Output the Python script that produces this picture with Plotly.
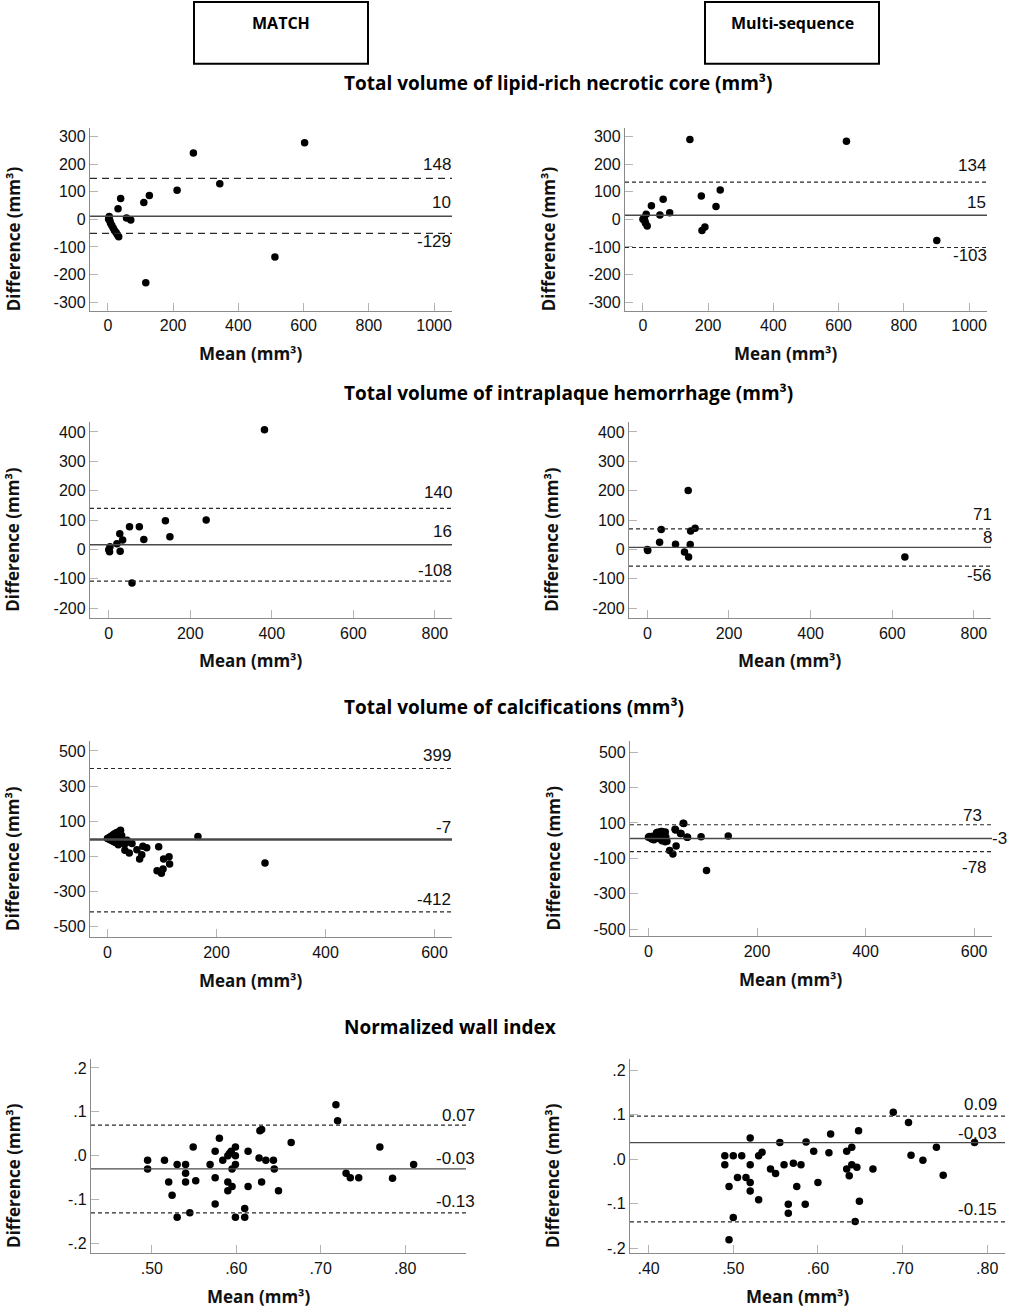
import plotly.graph_objects as go

W, H = 1013, 1315

# ---------------- data ----------------
col_headers = ["MATCH", "Multi-sequence"]
row_titles = ["Total volume of lipid-rich necrotic core (mm³)",
              "Total volume of intraplaque hemorrhage (mm³)",
              "Total volume of calcifications (mm³)",
              "Normalized wall index"]

# lipid-rich necrotic core
lrnc_match_mean = [603, 262, 343, 212, 127, 110, 39, 31, 512, 116, 57, 70, 2, 4, 6, 8, 12, 16, 20, 25, 29, 33]
lrnc_match_diff = [277, 240, 129, 105, 86, 61, 75, 38, -136, -230, 5, -2, 1, 10, -5, -14, -22, -31, -40, -48, -56, -63]
lrnc_match_lines = [148, 11, -51]
lrnc_match_labels = ["148", "10", "-129"]

lrnc_multi_mean = [144, 624, 901, 179, 237, 224, 62, 26, 52, 82, 181, 190, 0, 10, 6, 13, 4, 8]
lrnc_multi_diff = [289, 283, -77, 84, 106, 46, 73, 49, 16, 24, -40, -28, 0, 18, -6, -24, 6, -14]
lrnc_multi_lines = [135, 15, -102]
lrnc_multi_labels = ["134", "15", "-103"]

# intraplaque hemorrhage
iph_match_mean = [382, 239, 139, 150, 75, 51, 86, 27, 34, 20, 28, 57, 0, 3, 2]
iph_match_diff = [408, 100, 98, 43, 77, 77, 34, 53, 32, 19, -6, -114, -1, 9, -8]
iph_match_lines = [140, 16, -108]
iph_match_labels = ["140", "16", "-108"]

iph_multi_mean = [100, 34, 30, 69, 106, 117, 105, 91, 101, 631, 0, 1]
iph_multi_diff = [201, 68, 24, 18, 63, 72, 17, -9, -26, -26, 0, -4]
iph_multi_lines = [70, 7, -57]
iph_multi_labels = ["71", "8", "-56"]

# calcifications
calc_match_mean = [0, 2, 3, 5, 5, 7, 8, 8, 10, 11, 12, 13, 14, 15, 17, 18, 19, 20, 21, 23, 26, 28, 29, 31, 34, 36,
                   24, 32, 40, 45, 54, 59, 63, 65, 72, 94, 91, 99, 102, 103, 113, 114, 166, 289]
calc_match_diff = [2, 5, -2, 10, -6, 15, 3, -10, 22, -15, 8, 28, -20, -5, 35, 12, -28, -34, 40, -8, 18, -15, -11, -31, -22, -8,
                   49, -66, -81, -27, -63, -115, -91, -42, -51, -45, -182, -197, -172, -115, -102, -144, 13, -138]
calc_match_lines = [400, -4, -416]
calc_match_labels = ["399", "-7", "-412"]

calc_multi_mean = [107, 147, 97, 65, 71, 59, 50, 51, 39, 45, 31, 31, 23, 15,
                   0, 2, 5, 6, 8, 10, 12, 14, 17, 18, 20, 22, 25, 25, 27, 28, 29, 32, 34, 49, 60, 64, 72]
calc_multi_diff = [-169, 26, 22, 97, 19, 41, 60, -30, -56, -75, -6, 49, 52, 45,
                   19, 24, 15, 9, 25, 5, 22, 30, 47, 12, 38, 28, 0, 52, 40, 19, 35, 20, -4, 65, 41, 99, 19]
calc_multi_lines = [90, 12, -62]
calc_multi_labels = ["73", "-3", "-78"]

# normalized wall index
nwi_match_mean = [0.495, 0.495, 0.515, 0.520, 0.524, 0.530, 0.530, 0.540, 0.540, 0.540, 0.545, 0.549, 0.552,
                  0.569, 0.575, 0.575, 0.575, 0.580, 0.584, 0.590, 0.592, 0.594, 0.595, 0.590, 0.590, 0.595,
                  0.599, 0.599, 0.599, 0.599, 0.610, 0.610, 0.614, 0.614, 0.627, 0.628, 0.630, 0.630, 0.635,
                  0.644, 0.645, 0.650, 0.665, 0.718, 0.720, 0.730, 0.735, 0.745, 0.770, 0.785, 0.810]
nwi_match_diff = [-0.01, -0.03, -0.01, -0.06, -0.09, -0.02, -0.14, -0.02, -0.04, -0.06, -0.13, 0.02, -0.057,
                  -0.02, 0.01, -0.05, -0.11, 0.04, -0.01, 0.0, 0.005, 0.01, -0.03, -0.06, -0.08, -0.07,
                  0.02, 0.0, -0.02, -0.14, -0.12, -0.14, 0.01, -0.07, -0.005, 0.057, 0.06, -0.06, -0.01,
                  -0.01, -0.03, -0.08, 0.03, 0.116, 0.08, -0.04, -0.05, -0.05, 0.02, -0.051, -0.02]
nwi_match_lines = [0.07, -0.03, -0.13]
nwi_match_labels = ["0.07", "-0.03", "-0.13"]

nwi_multi_mean = [0.490, 0.490, 0.495, 0.495, 0.500, 0.500, 0.505, 0.510, 0.515, 0.520, 0.520, 0.520, 0.520,
                  0.530, 0.530, 0.534, 0.544, 0.550, 0.555, 0.560, 0.565, 0.565, 0.571, 0.575, 0.580, 0.585,
                  0.586, 0.595, 0.600, 0.615, 0.613, 0.634, 0.640, 0.634, 0.637, 0.640, 0.644, 0.646, 0.648,
                  0.649, 0.665, 0.689, 0.707, 0.710, 0.724, 0.740, 0.748, 0.785]
nwi_multi_diff = [0.008, -0.012, -0.061, -0.181, 0.008, -0.131, -0.041, 0.008, -0.041, 0.048, -0.012, -0.052, -0.071,
                  -0.091, 0.008, 0.016, -0.022, -0.032, 0.038, -0.012, -0.101, -0.121, -0.009, -0.061, -0.012, -0.101,
                  0.039, 0.018, -0.052, 0.057, 0.015, 0.018, 0.027, -0.022, -0.037, -0.012, -0.14, -0.018, 0.064,
                  -0.094, -0.022, 0.106, 0.083, 0.009, -0.002, 0.027, -0.036, 0.038]
nwi_multi_lines = [0.097, 0.0375, -0.1405]
nwi_multi_labels = ["0.09", "-0.03", "-0.15"]

vol_x_ticks_1000 = [0, 200, 400, 600, 800, 1000]
vol_x_ticks_800 = [0, 200, 400, 600, 800]
vol_x_ticks_600 = [0, 200, 400, 600]
lrnc_y_ticks = [-300, -200, -100, 0, 100, 200, 300]
iph_y_ticks = [-200, -100, 0, 100, 200, 300, 400]
calc_y_ticks = [-500, -300, -100, 100, 300, 500]
nwi_y_ticks = [-0.2, -0.1, 0.0, 0.1, 0.2]
nwi_y_text = ["-.2", "-.1", ".0", ".1", ".2"]
nwi_match_x_ticks = [0.5, 0.6, 0.7, 0.8]
nwi_multi_x_ticks = [0.4, 0.5, 0.6, 0.7, 0.8]


def dec_text(vals):
    return ["." + f"{v:.2f}".split(".")[1] for v in vals]


# ---------------- panels (pixel boxes: left, top, right, bottom) ----------------
panels = [
    dict(x=lrnc_match_mean, y=lrnc_match_diff, lines=lrnc_match_lines, labels=lrnc_match_labels,
         box=(90, 128, 452, 312), xr=[-55, 1055], yr=[-332, 332],
         xt=vol_x_ticks_1000, yt=lrnc_y_ticks, dash="7px,5px",
         shifts=[(1, 14), (1, 14), (1, -8)]),
    dict(x=lrnc_multi_mean, y=lrnc_multi_diff, lines=lrnc_multi_lines, labels=lrnc_multi_labels,
         box=(625, 128, 987, 312), xr=[-55, 1055], yr=[-332, 332],
         xt=vol_x_ticks_1000, yt=lrnc_y_ticks, dash="4px,3px",
         shifts=[(1, 17), (1, 13), (2, -8)]),
    dict(x=iph_match_mean, y=iph_match_diff, lines=iph_match_lines, labels=iph_match_labels,
         box=(90, 423, 452, 620), xr=[-46, 842], yr=[-234, 435],
         xt=vol_x_ticks_800, yt=iph_y_ticks, dash="4px,3px",
         shifts=[(2, 16), (2, 13), (2, 11)]),
    dict(x=iph_multi_mean, y=iph_multi_diff, lines=iph_multi_lines, labels=iph_multi_labels,
         box=(629, 423, 991, 620), xr=[-45, 842], yr=[-234, 435],
         xt=vol_x_ticks_800, yt=iph_y_ticks, dash="4px,3px",
         shifts=[(3, 14), (3, 10), (3, -9)]),
    dict(x=calc_match_mean, y=calc_match_diff, lines=calc_match_lines, labels=calc_match_labels,
         box=(90, 743, 452, 940), xr=[-32, 632], yr=[-560, 558],
         xt=vol_x_ticks_600, yt=calc_y_ticks, dash="4px,3px", meanw=2.5,
         shifts=[(1, 13), (1, 12), (1, 12)]),
    dict(x=calc_multi_mean, y=calc_multi_diff, lines=calc_multi_lines, labels=calc_multi_labels,
         box=(630, 743, 992, 939), xr=[-34, 633], yr=[-540, 565],
         xt=vol_x_ticks_600, yt=calc_y_ticks, dash="4px,3px",
         shifts=[(-8, 9), (17, 0), (-3, -16)]),
    dict(x=nwi_match_mean, y=nwi_match_diff, lines=nwi_match_lines, labels=nwi_match_labels,
         box=(91, 1062, 466, 1257), xr=[0.428, 0.872], yr=[-0.222, 0.221],
         xt=nwi_match_x_ticks, yt=nwi_y_ticks, ytext=nwi_y_text, xdec=True, dash="4px,3px",
         shifts=[(11, 10), (11, 10), (11, 11)]),
    dict(x=nwi_multi_mean, y=nwi_multi_diff, lines=nwi_multi_lines, labels=nwi_multi_labels,
         box=(630, 1062, 1005, 1257), xr=[0.378, 0.821], yr=[-0.211, 0.226],
         xt=nwi_multi_x_ticks, yt=nwi_y_ticks, ytext=nwi_y_text, xdec=True, dash="4px,3px",
         shifts=[(-6, 12), (-6, 9), (-6, 12)]),
]


def fx(px):
    return px / W


def fy(py):
    return 1 - py / H


TICK_FONT = dict(family="Liberation Sans, Arial, sans-serif", size=16, color="#111111")
LAB_FONT = dict(family="Liberation Sans, Arial, sans-serif", size=17, color="#111111")
BOLD = "Open Sans, sans-serif"

fig = go.Figure()
shapes = []
annotations = []
layout_axes = {}

for i, p in enumerate(panels):
    n = "" if i == 0 else str(i + 1)
    l, t, r, b = p["box"]
    fig.add_trace(go.Scatter(
        x=p["x"], y=p["y"], mode="markers", xaxis="x" + n, yaxis="y" + n,
        marker=dict(color="black", size=7.5), showlegend=False, hoverinfo="x+y"))

    common = dict(showline=True, linecolor="#8a8a8a", linewidth=1.4, ticks="inside", ticklen=8,
                  tickcolor="#b4b4b4", tickwidth=1.4, showgrid=False, zeroline=False,
                  tickfont=TICK_FONT, mirror=False, fixedrange=True)
    xa = dict(common, domain=[fx(l), fx(r)], range=p["xr"], anchor="y" + n,
              tickvals=p["xt"], ticktext=dec_text(p["xt"]) if p.get("xdec") else [str(v) for v in p["xt"]])
    ya = dict(common, domain=[fy(b), fy(t)], range=p["yr"], anchor="x" + n,
              tickvals=p["yt"], ticktext=p.get("ytext", [str(v) for v in p["yt"]]))
    layout_axes["xaxis" + n] = xa
    layout_axes["yaxis" + n] = ya

    # limits of agreement and mean difference
    for k, (v, lab) in enumerate(zip(p["lines"], p["labels"])):
        solid = (k == 1)
        shapes.append(dict(
            type="line", xref="x" + n + " domain", yref="y" + n, x0=0, x1=1, y0=v, y1=v,
            line=dict(color="#2a2a2a" if not solid else "#4a4a4a",
                      width=p.get("meanw", 1.4) if solid else 1.2,
                      dash="solid" if solid else p["dash"])))
        xs, ys = p["shifts"][k]
        annotations.append(dict(
            xref="x" + n, yref="y" + n, x=p["xr"][1], y=v, text=lab, showarrow=False,
            xanchor="right", yanchor="middle", xshift=xs, yshift=ys, font=LAB_FONT))

    # axis titles
    annotations.append(dict(xref="paper", yref="paper", x=fx((l + r) / 2 - 20), y=fy(b + 43),
                            text="Mean (mm³)", showarrow=False, xanchor="center", yanchor="middle",
                            font=dict(family=BOLD, size=17, color="#111111", weight="bold")))
    annotations.append(dict(xref="paper", yref="paper", x=fx(l - 77), y=fy((t + b) / 2 + 20),
                            text="Difference (mm³)", showarrow=False, textangle=-90,
                            xanchor="center", yanchor="middle",
                            font=dict(family=BOLD, size=17, color="#111111", weight="bold")))

# column header boxes
for txt, (l, r) in zip(col_headers, [(194, 368), (705, 879)]):
    shapes.append(dict(type="rect", xref="paper", yref="paper", x0=fx(l), x1=fx(r), y0=fy(64), y1=fy(2),
                       line=dict(color="black", width=2)))
    annotations.append(dict(xref="paper", yref="paper", x=fx((l + r) / 2), y=fy(23), text=txt,
                            showarrow=False, xanchor="center", yanchor="middle",
                            font=dict(family=BOLD, size=16, color="black", weight="bold")))

# row titles
for txt, yc in zip(row_titles, [83, 394, 709, 1030]):
    annotations.append(dict(xref="paper", yref="paper", x=fx(342), y=fy(yc), text=txt,
                            showarrow=False, xanchor="left", yanchor="middle",
                            font=dict(family=BOLD, size=19, color="black", weight="bold")))

fig.update_layout(
    width=W, height=H, margin=dict(l=0, r=0, t=0, b=0),
    paper_bgcolor="white", plot_bgcolor="white",
    shapes=shapes, annotations=annotations, showlegend=False,
    **layout_axes)

# drop the browser's default page margin so the figure sits at the window origin
fig.write_html("out.html", config={"displayModeBar": False},
               post_script="document.body.style.margin='0';")
